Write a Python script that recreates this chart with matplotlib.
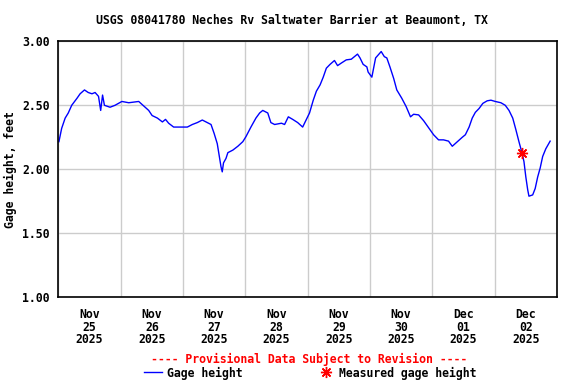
import matplotlib
matplotlib.use("Agg")
import matplotlib.pyplot as plt
import matplotlib.dates as mdates
from matplotlib.lines import Line2D
import pandas as pd

# gage height readings (days since Nov 25 00:00, feet)
days = [0.01, 0.054, 0.11, 0.16, 0.215, 0.30, 0.35, 0.42, 0.48, 0.54, 0.59, 0.645,
        0.68, 0.71, 0.74, 0.83, 0.91, 1.02, 1.13, 1.29, 1.37, 1.45, 1.505, 1.59,
        1.67, 1.72, 1.77, 1.85, 1.96, 2.07, 2.15, 2.23, 2.31, 2.39, 2.45, 2.50,
        2.55, 2.58, 2.61, 2.63, 2.65, 2.69, 2.72, 2.80, 2.88, 2.96, 3.01, 3.09,
        3.17, 3.23, 3.28, 3.36, 3.41, 3.47, 3.58, 3.63, 3.69, 3.76, 3.84, 3.92,
        3.98, 4.03, 4.09, 4.14, 4.20, 4.25, 4.30, 4.36, 4.43, 4.48, 4.54, 4.62,
        4.70, 4.80, 4.84, 4.89, 4.95, 4.97, 5.03, 5.09, 5.18, 5.23, 5.27, 5.32,
        5.38, 5.43, 5.51, 5.58, 5.65, 5.70, 5.78, 5.86, 5.94, 6.02, 6.10, 6.18,
        6.26, 6.32, 6.40, 6.48, 6.53, 6.59, 6.64, 6.69, 6.75, 6.81, 6.88, 6.94,
        7.01, 7.10, 7.17, 7.23, 7.29, 7.34, 7.39, 7.44, 7.47, 7.50, 7.53, 7.55,
        7.61, 7.65, 7.69, 7.73, 7.77, 7.82, 7.89]
height = [2.216, 2.32, 2.40, 2.44, 2.50, 2.555, 2.59, 2.62, 2.60, 2.59, 2.60, 2.57,
          2.46, 2.58, 2.50, 2.485, 2.50, 2.53, 2.52, 2.53, 2.495, 2.46, 2.42, 2.40,
          2.37, 2.39, 2.36, 2.33, 2.33, 2.33, 2.35, 2.365, 2.385, 2.365, 2.35, 2.28,
          2.20, 2.11, 2.02, 1.98, 2.05, 2.085, 2.13, 2.15, 2.18, 2.216, 2.255, 2.33,
          2.40, 2.44, 2.46, 2.44, 2.365, 2.35, 2.36, 2.35, 2.41, 2.39, 2.365, 2.33,
          2.39, 2.44, 2.54, 2.61, 2.66, 2.72, 2.79, 2.82, 2.85, 2.81, 2.83, 2.855,
          2.86, 2.90, 2.87, 2.82, 2.80, 2.76, 2.72, 2.87, 2.92, 2.88, 2.87, 2.80,
          2.71, 2.62, 2.555, 2.49, 2.41, 2.43, 2.425, 2.38, 2.325, 2.27, 2.23, 2.23,
          2.22, 2.18, 2.215, 2.25, 2.27, 2.33, 2.40, 2.445, 2.475, 2.515, 2.535, 2.54,
          2.53, 2.52, 2.50, 2.46, 2.40, 2.31, 2.215, 2.125, 2.06, 1.94, 1.84, 1.79,
          1.80, 1.85, 1.94, 2.01, 2.10, 2.16, 2.22]

# field measurement
meas_day = [7.44]
meas_height = [2.125]

start = pd.Timestamp("2025-11-25")
times = start + pd.to_timedelta(days, unit="D")
meas_times = start + pd.to_timedelta(meas_day, unit="D")

font = dict(family="DejaVu Sans Mono", weight="bold", size=8.3)

fig = plt.figure(figsize=(5.76, 3.84), dpi=100)
ax = fig.add_axes([58.3 / 576, 1 - 297.3 / 384, 498.7 / 576, 256 / 384])

ax.plot(times, height, color="#0000ff", lw=1.0)
ax.plot(meas_times, meas_height, ls="none", marker=(8, 2, 0), ms=8, mew=1.0,
        color="#ff0000", zorder=5)

ax.set_xlim(start, start + pd.Timedelta(days=8))
ax.set_ylim(1.0, 3.0)

# grid at midnight, labels at noon
ax.xaxis.set_major_locator(mdates.DayLocator())
ax.xaxis.set_major_formatter(plt.NullFormatter())
ax.xaxis.set_minor_locator(mdates.HourLocator(byhour=[12]))
ax.xaxis.set_minor_formatter(mdates.DateFormatter("%b\n%d\n%Y"))
ax.set_yticks([1.0, 1.5, 2.0, 2.5, 3.0])
ax.set_yticklabels(["%.2f" % v for v in [1.0, 1.5, 2.0, 2.5, 3.0]])

ax.tick_params(which="both", length=0)
ax.tick_params(axis="x", which="minor", pad=8)
ax.tick_params(axis="y", pad=6)
for lab in ax.get_xticklabels(minor=True) + ax.get_yticklabels():
    lab.set_fontfamily(font["family"])
    lab.set_fontweight("bold")
    lab.set_fontsize(font["size"])
    lab.set_linespacing(0.95)

ax.grid(True, which="major", color="#cccccc", lw=1.0)
ax.set_axisbelow(True)
for sp in ax.spines.values():
    sp.set_linewidth(1.2)

ax.set_ylabel("Gage height, feet", labelpad=4, **font)

fig.text(292 / 576, 1 - 20 / 384, "USGS 08041780 Neches Rv Saltwater Barrier at Beaumont, TX",
         ha="center", va="center", **font)
fig.text(309 / 576, 1 - 359 / 384, "---- Provisional Data Subject to Revision ----",
         ha="center", va="center", color="#ff0000", **font)

# legend row
fig.add_artist(Line2D([144 / 576, 162 / 576], [1 - 372 / 384] * 2, color="#0000ff", lw=1.0))
fig.text(167 / 576, 1 - 373 / 384, "Gage height", ha="left", va="center", **font)
fig.add_artist(Line2D([326 / 576], [1 - 372 / 384], ls="none", marker=(8, 2, 0), ms=8,
                      mew=1.0, color="#ff0000"))
fig.text(339 / 576, 1 - 373 / 384, "Measured gage height", ha="left", va="center", **font)

fig.savefig("out.png", dpi=100)
